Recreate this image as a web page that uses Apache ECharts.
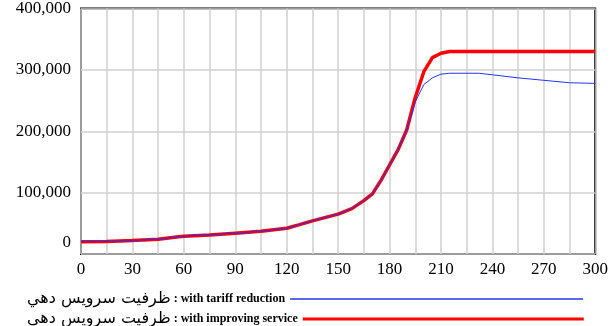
<!DOCTYPE html>
<html>
<head>
<meta charset="utf-8">
<script src="https://cdn.jsdelivr.net/npm/echarts@6/dist/echarts.min.js"></script>
<style>
  html, body { margin: 0; padding: 0; background: #fff; }
  #main { width: 611px; height: 326px; }
</style>
</head>
<body>
<div id="main"></div>
<script>
// time axis (months)
const time = [0, 15, 30, 45, 57, 60, 75, 90, 105, 120, 127, 135, 150, 158, 165, 170, 175, 180, 185, 190,
  195, 200, 205, 210, 215, 220, 232, 240, 255, 270, 285, 300];
// with tariff reduction
const tariff = [20000, 20500, 22000, 24000, 28000, 29000, 31000, 34000, 37000, 42000, 47500, 54000, 65000, 74000,
  87000, 98000, 120000, 145000, 170000, 202000, 248000, 276000, 287000, 293000, 294500, 294500, 294500, 292000,
  287000, 283000, 279000, 278000];
// with improving service
const service = [20000, 20500, 22000, 24000, 28000, 29000, 31000, 34000, 37000, 42000, 47500, 54000, 65000, 74000,
  87000, 98000, 120000, 145000, 170000, 202000, 255000, 297000, 320000, 327000, 330000, 330000, 330000, 330000,
  330000, 330000, 330000, 330000];

const xTicks = [0, 30, 60, 90, 120, 150, 180, 210, 240, 270, 300];
const yTicks = [0, 100000, 200000, 300000, 400000];

const label = 'ظرفيت سرويس دهي';
const nameTariff = label + ' : with tariff reduction';
const nameService = label + ' : with improving service';

const pairs = (ys) => time.map((t, i) => [t, ys[i]]);

let mycharts = echarts.init(document.getElementById('main'));
const serif = 'Liberation Serif';

function legendFmt(name) {
    const parts = name.split(' : ');
    return '{a|' + parts[0] + '}{b| : ' + parts[1] + '}';
}
const legendRich = {
    a: { fontFamily: 'DejaVu Sans', fontSize: 16, color: '#000' },
    b: { fontFamily: serif, fontSize: 12, fontWeight: 'bold', color: '#000' }
};

let option = {
    animation: false,
    grid: {
        left: 81,
        right: 12,
        top: 6,
        bottom: 72,
        show: true,
        borderColor: '#000',
        borderWidth: 2,
        backgroundColor: 'transparent'
    },
    legend: [
        {
            data: [nameTariff],
            left: 22,
            top: 286,
            align: 'right',
            icon: 'rect',
            itemWidth: 293,
            itemHeight: 1.5,
            formatter: legendFmt,
            textStyle: { rich: legendRich }
        },
        {
            data: [nameService],
            left: 22,
            top: 306,
            align: 'right',
            icon: 'rect',
            itemWidth: 281,
            itemHeight: 3,
            formatter: legendFmt,
            textStyle: { rich: legendRich }
        }
    ],
    xAxis: {
        type: 'value',
        min: 0,
        max: 300,
        interval: 15,
        axisLine: { show: false },
        axisTick: { show: false },
        splitLine: { show: true, lineStyle: { color: '#d0d0d0', width: 1.5 } },
        axisLabel: {
            margin: 7,
            fontFamily: serif,
            fontSize: 17,
            color: '#000',
            formatter: (v) => xTicks.includes(v) ? String(v) : ''
        }
    },
    yAxis: {
        type: 'value',
        min: 0,
        max: 400000,
        interval: 100000,
        axisLine: { show: false },
        axisTick: { show: false },
        splitLine: { show: true, lineStyle: { color: '#d0d0d0', width: 1.5 } },
        axisLabel: {
            margin: 10,
            fontFamily: serif,
            fontSize: 17,
            color: '#000',
            formatter: (v) => yTicks.includes(v) ? (v === 0 ? '{z|0}' : v.toLocaleString('en-US')) : '',
            rich: {
                z: { fontFamily: serif, fontSize: 17, color: '#000', padding: [0, 0, 22, 0] }
            }
        }
    },
    series: [
        {
            name: nameService,
            type: 'line',
            data: pairs(service),
            showSymbol: false,
            symbol: 'none',
            color: '#ff0000',
            lineStyle: { color: '#ff0000', width: 3.5 },
            z: 2
        },
        {
            name: nameTariff,
            type: 'line',
            data: pairs(tariff),
            showSymbol: false,
            symbol: 'none',
            color: '#2233ff',
            lineStyle: { color: '#2233ff', width: 1 },
            z: 3
        }
    ]
};
mycharts.setOption(option);
window.addEventListener('resize', function () {
    mycharts.resize();
});
</script>
</body>
</html>
